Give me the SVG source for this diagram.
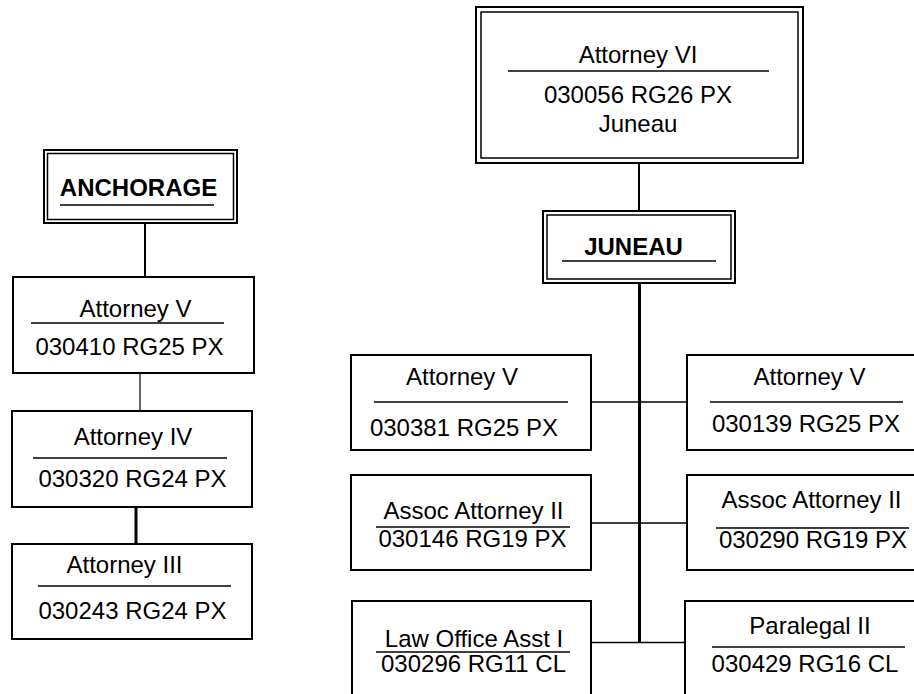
<svg xmlns="http://www.w3.org/2000/svg" width="914" height="694" viewBox="0 0 914 694">
<style>
.box{fill:#fff;stroke:#000;stroke-width:2}
.inner{fill:none;stroke:#000;stroke-width:1.5}
.rule{stroke:#000;stroke-width:1.5}
.t{font-family:"Liberation Sans",Arial,sans-serif;font-size:24px;fill:#000;text-anchor:middle}
.b{font-weight:bold}
.c{stroke:#000;fill:none}
</style>
<rect width="914" height="694" fill="#fff"/>
<g id="connectors">
<line class="c" x1="145" y1="223" x2="145" y2="277" stroke-width="2"/>
<line class="c" x1="140" y1="373" x2="140" y2="411" stroke-width="1.2"/>
<line class="c" x1="136" y1="503" x2="136" y2="544" stroke-width="3"/>
<line class="c" x1="639" y1="163" x2="639" y2="211" stroke-width="2"/>
<line class="c" x1="639.5" y1="283" x2="639.5" y2="643" stroke-width="3"/>
<line class="c" x1="591" y1="402" x2="687" y2="402" stroke-width="1.5"/>
<line class="c" x1="591" y1="523" x2="687" y2="523" stroke-width="1.5"/>
<line class="c" x1="590" y1="642.5" x2="690" y2="642.5" stroke-width="1.5"/>
</g>
<g id="anchorage">
<rect class="box" x="44" y="150" width="193" height="73"/>
<rect class="inner" x="47.5" y="153.5" width="186" height="66"/>
<text class="t b" x="138.5" y="196">ANCHORAGE</text>
<line class="rule" x1="60" y1="205" x2="214" y2="205"/>
</g>
<g id="anc-attorney-v">
<rect class="box" x="13" y="277" width="241" height="96"/>
<text class="t" x="135.5" y="317">Attorney V</text>
<line class="rule" x1="31" y1="323" x2="224" y2="323"/>
<text class="t" x="129.5" y="355">030410 RG25 PX</text>
</g>
<g id="anc-attorney-iv">
<rect class="box" x="12" y="411" width="240" height="96"/>
<text class="t" x="133" y="445">Attorney IV</text>
<line class="rule" x1="33" y1="458" x2="227" y2="458"/>
<text class="t" x="132.5" y="487">030320 RG24 PX</text>
</g>
<g id="anc-attorney-iii">
<rect class="box" x="12" y="544" width="240" height="95"/>
<text class="t" x="124.5" y="573">Attorney III</text>
<line class="rule" x1="38" y1="586" x2="231" y2="586"/>
<text class="t" x="132.5" y="619">030243 RG24 PX</text>
</g>
<g id="attorney-vi">
<rect class="box" x="476" y="7" width="327" height="156"/>
<rect class="inner" x="481" y="12" width="317" height="146"/>
<text class="t" x="638" y="63">Attorney VI</text>
<line class="rule" x1="508" y1="71" x2="769" y2="71"/>
<text class="t" x="638" y="103">030056 RG26 PX</text>
<text class="t" x="638" y="132">Juneau</text>
</g>
<g id="juneau">
<rect class="box" x="543" y="211" width="192" height="72"/>
<rect class="inner" x="547" y="215" width="184" height="64"/>
<text class="t b" x="633.5" y="255">JUNEAU</text>
<line class="rule" x1="562" y1="261" x2="716" y2="261"/>
</g>
<g id="jun-attorney-v-left">
<rect class="box" x="351" y="355" width="240" height="95"/>
<text class="t" x="462" y="385">Attorney V</text>
<line class="rule" x1="374" y1="402" x2="568" y2="402"/>
<text class="t" x="464" y="436">030381 RG25 PX</text>
</g>
<g id="jun-attorney-v-right">
<rect class="box" x="687" y="355" width="230" height="95"/>
<text class="t" x="809.5" y="385">Attorney V</text>
<line class="rule" x1="710" y1="402" x2="903" y2="402"/>
<text class="t" x="806" y="432">030139 RG25 PX</text>
</g>
<g id="jun-assoc-left">
<rect class="box" x="351" y="475" width="240" height="95"/>
<text class="t" x="473.5" y="519">Assoc Attorney II</text>
<line class="rule" x1="376" y1="527" x2="570" y2="527"/>
<text class="t" x="472.5" y="547">030146 RG19 PX</text>
</g>
<g id="jun-assoc-right">
<rect class="box" x="687" y="475" width="230" height="95"/>
<text class="t" x="811.5" y="508">Assoc Attorney II</text>
<line class="rule" x1="716" y1="528" x2="909" y2="528"/>
<text class="t" x="813" y="548">030290 RG19 PX</text>
</g>
<g id="jun-law-office">
<rect class="box" x="352" y="601" width="239" height="100"/>
<text class="t" x="474" y="647">Law Office Asst I</text>
<line class="rule" x1="376" y1="652" x2="570" y2="652"/>
<text class="t" x="473.5" y="672">030296 RG11 CL</text>
</g>
<g id="jun-paralegal">
<rect class="box" x="685" y="601" width="232" height="100"/>
<text class="t" x="810" y="634">Paralegal II</text>
<line class="rule" x1="712" y1="647" x2="905" y2="647"/>
<text class="t" x="805" y="672">030429 RG16 CL</text>
</g>
</svg>
